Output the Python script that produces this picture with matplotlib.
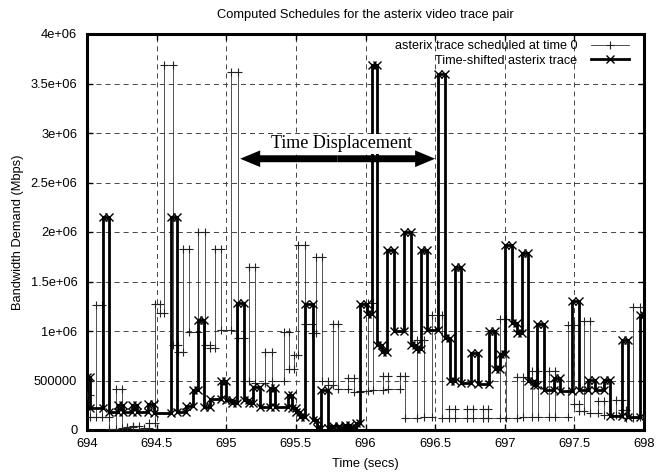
import matplotlib
matplotlib.use('Agg')
import matplotlib.pyplot as plt
from matplotlib.patches import ArrowStyle

plt.rcParams['font.family'] = ['Liberation Sans', 'DejaVu Sans']
plt.rcParams['lines.scale_dashes'] = False

# ---------------- data ----------------
title = "Computed Schedules for the asterix video trace pair"
x_label = "Time (secs)"
y_label = "Bandwidth Demand (Mbps)"
series_labels = ["asterix trace scheduled at time 0", "Time-shifted asterix trace"]
annotation_text = "Time Displacement"

# segment edges (secs) and per-segment bandwidth for the trace scheduled at time 0
thin_edges = [694.000, 694.020, 694.068, 694.110, 694.155, 694.210, 694.250, 694.290, 694.330, 694.370,
              694.410, 694.445, 694.485, 694.525, 694.555, 694.615, 694.655, 694.690, 694.730, 694.800,
              694.850, 694.885, 694.920, 694.960, 695.035, 695.085, 695.125, 695.160, 695.210, 695.280,
              695.325, 695.415, 695.450, 695.485, 695.518, 695.566, 695.615, 695.645, 695.688, 695.730,
              695.765, 695.805, 695.875, 695.915, 695.960, 696.015, 696.055, 696.125, 696.165, 696.245,
              696.285, 696.370, 696.418, 696.475, 696.547, 696.600, 696.640, 696.730, 696.770, 696.845,
              696.880, 696.965, 697.012, 697.085, 697.132, 697.195, 697.240, 697.315, 697.360, 697.455,
              697.500, 697.530, 697.570, 697.612, 697.670, 697.715, 697.800, 697.840, 697.870, 697.920,
              697.970, 698.000]
thin_values = [350000, 130000, 1260000, 130000, 10000, 410000, 20000, 30000, 40000, 10000,
               20000, 70000, 1270000, 1180000, 3690000, 860000, 790000, 1830000, 990000, 2000000,
               860000, 830000, 1830000, 1010000, 3620000, 930000, 490000, 1650000, 470000, 790000,
               490000, 990000, 620000, 760000, 1870000, 1070000, 980000, 1750000, 490000, 450000,
               1070000, 410000, 530000, 380000, 390000, 1280000, 400000, 550000, 410000, 550000,
               120000, 910000, 130000, 1160000, 120000, 210000, 120000, 210000, 120000, 210000,
               120000, 1120000, 120000, 540000, 130000, 600000, 130000, 600000, 130000, 1060000,
               260000, 190000, 1100000, 170000, 290000, 150000, 300000, 200000, 120000, 1240000,
               130000]

# segment edges (secs) and per-segment bandwidth for the time-shifted trace
thick_edges = [694.000, 694.020, 694.115, 694.160, 694.220, 694.260, 694.320, 694.360, 694.440, 694.480,
               694.600, 694.645, 694.710, 694.760, 694.800, 694.840, 694.885, 694.960, 695.000, 695.040,
               695.075, 695.125, 695.160, 695.195, 695.245, 695.315, 695.350, 695.440, 695.475, 695.500,
               695.530, 695.565, 695.620, 695.650, 695.678, 695.733, 695.770, 695.810, 695.850, 695.890,
               695.930, 695.960, 696.010, 696.045, 696.080, 696.115, 696.155, 696.205, 696.280, 696.330,
               696.365, 696.400, 696.445, 696.520, 696.570, 696.605, 696.640, 696.685, 696.760, 696.805,
               696.885, 696.930, 696.965, 697.000, 697.050, 697.090, 697.125, 697.170, 697.210, 697.235,
               697.285, 697.355, 697.395, 697.480, 697.530, 697.600, 697.645, 697.710, 697.756, 697.840,
               697.888, 697.970, 698.000]
thick_values = [540000, 220000, 2150000, 180000, 250000, 180000, 250000, 180000, 260000, 170000,
                2150000, 180000, 240000, 400000, 1110000, 230000, 310000, 500000, 300000, 270000,
                1280000, 300000, 270000, 430000, 230000, 420000, 230000, 350000, 220000, 180000,
                130000, 1270000, 100000, 20000, 400000, 20000, 40000, 30000, 50000, 20000,
                70000, 1270000, 1170000, 3690000, 860000, 790000, 1820000, 1000000, 2000000, 860000,
                820000, 1820000, 1010000, 3600000, 930000, 490000, 1650000, 470000, 780000, 460000,
                1000000, 620000, 770000, 1870000, 1080000, 980000, 1790000, 490000, 450000, 1070000,
                400000, 530000, 390000, 1300000, 400000, 510000, 400000, 510000, 140000, 910000,
                130000, 1160000]

x_ticks = [694, 694.5, 695, 695.5, 696, 696.5, 697, 697.5, 698]
x_tick_labels = ["694", "694.5", "695", "695.5", "696", "696.5", "697", "697.5", "698"]
y_ticks = [0, 500000, 1000000, 1500000, 2000000, 2500000, 3000000, 3500000, 4000000]
y_tick_labels = ["0", "500000", "1e+06", "1.5e+06", "2e+06", "2.5e+06", "3e+06", "3.5e+06", "4e+06"]

arrow_left = 695.10
arrow_right = 696.50
arrow_level = 2740000
text_x = 695.827
text_y = 2845000


def step_points(edges, values):
    xs, ys = [], []
    for t0, t1, v in zip(edges[:-1], edges[1:], values):
        xs += [t0, t1]
        ys += [v, v]
    return xs, ys


# ---------------- figure ----------------
fig = plt.figure(figsize=(6.70, 4.72), dpi=100)
ax = fig.add_axes([87 / 670, 1 - 430 / 472, 557 / 670, 396 / 472])

tx, ty = step_points(thin_edges, thin_values)
sx, sy = step_points(thick_edges, thick_values)

ax.plot(tx, ty, color='#222222', lw=0.55, marker='+', ms=5.8, mew=0.8,
        label=series_labels[0], zorder=3)
ax.plot(sx, sy, color='black', lw=2.0, marker='x', ms=5.5, mew=1.0,
        label=series_labels[1], zorder=4)

ax.set_xlim(694, 698)
ax.set_ylim(0, 4000000)
ax.set_xticks(x_ticks)
ax.set_xticklabels(x_tick_labels)
ax.set_yticks(y_ticks)
ax.set_yticklabels(y_tick_labels)
ax.tick_params(direction='in', length=4, width=1, top=True, right=True,
               labelsize=9.3, colors='black')
ax.tick_params(axis='x', pad=6)
ax.tick_params(axis='y', pad=7)
for s in ax.spines.values():
    s.set_linewidth(2.2)

ax.grid(True, color='#444444', lw=0.7, linestyle=(0, (3.6, 2.9)), zorder=1)

ax.set_xlabel(x_label, fontsize=9.3)
ax.set_ylabel(y_label, fontsize=9.3)
ax.xaxis.set_label_coords(0.5, -(458 - 430) / 396)
ax.yaxis.set_label_coords(-(87 - 24) / 557, 0.5)

fig.text(365.5 / 670, 1 - 15 / 472, title, ha='center', va='center', fontsize=9.3)

# time-displacement arrow (two filled heads)
style = ArrowStyle('simple', head_length=0.72, head_width=0.6, tail_width=0.25)
mid = (arrow_left + arrow_right) / 2
for end in (arrow_left, arrow_right):
    ax.annotate('', xy=(end, arrow_level), xytext=(mid, arrow_level),
                arrowprops=dict(arrowstyle=style, mutation_scale=20, color='black',
                                lw=0, shrinkA=0, shrinkB=0), zorder=6)
ax.text(text_x, text_y, annotation_text, ha='center', va='baseline',
        fontsize=13, family=['Liberation Serif', 'DejaVu Serif'], zorder=6,
        bbox=dict(facecolor='white', edgecolor='none', pad=1.0))

leg = ax.legend(loc='upper right', bbox_to_anchor=((629 - 87) / 557, (430 - 40) / 396),
                frameon=False, markerfirst=False, fontsize=9.1, handlelength=3.0,
                handletextpad=1.1, labelspacing=0.2, borderpad=0, borderaxespad=0,
                numpoints=1)

fig.savefig('out.png', dpi=100)
